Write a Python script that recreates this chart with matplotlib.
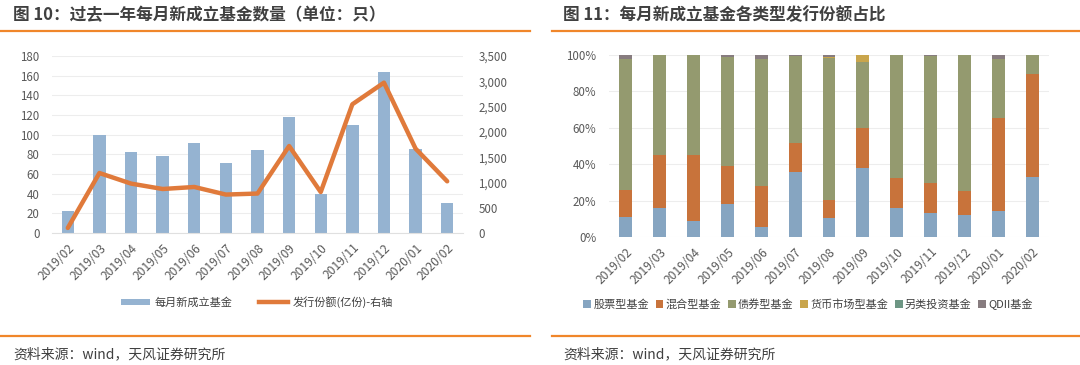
import matplotlib
matplotlib.use("Agg")
import matplotlib.pyplot as plt
from matplotlib.lines import Line2D
from matplotlib.patches import Patch
import numpy as np

plt.rcParams['font.family'] = ['Noto Sans CJK SC', 'DejaVu Sans']

months = ["2019/02", "2019/03", "2019/04", "2019/05", "2019/06", "2019/07", "2019/08",
          "2019/09", "2019/10", "2019/11", "2019/12", "2020/01", "2020/02"]
fund_count = [22, 100, 82, 78, 92, 71, 84, 118, 40, 110, 164, 85, 31]
issue_shares = [100, 1186, 977, 870, 910, 760, 780, 1720, 810, 2545, 2973, 1668, 1022]

type_names = ["股票型基金", "混合型基金", "债券型基金", "货币市场型基金", "另类投资基金", "QDII基金"]
stock_pct = [11.0, 15.7, 8.8, 18.1, 5.3, 35.8, 10.4, 38.0, 15.7, 13.3, 12.1, 14.3, 33.1]
mixed_pct = [14.8, 29.1, 36.0, 21.0, 22.9, 15.9, 10.1, 22.0, 16.8, 16.3, 12.9, 51.1, 56.5]
bond_pct = [71.8, 55.0, 55.2, 59.8, 69.4, 47.8, 77.5, 35.8, 67.5, 69.9, 75.0, 32.2, 10.4]
money_pct = [0.0, 0.0, 0.0, 0.0, 0.0, 0.0, 0.9, 4.2, 0.0, 0.0, 0.0, 0.0, 0.0]
alt_pct = [0.0, 0.0, 0.0, 0.0, 0.0, 0.0, 0.0, 0.0, 0.0, 0.0, 0.0, 0.0, 0.0]
qdii_pct = [2.4, 0.2, 0.0, 1.1, 2.4, 0.5, 1.1, 0.0, 0.0, 0.5, 0.0, 2.4, 0.0]

W, H = 1080, 365
fig = plt.figure(figsize=(W / 100, H / 100), dpi=100)
fig.patch.set_facecolor("white")

def fx(px):
    return px / W

def fy(py):
    return 1 - py / H

TXT = "#404040"
TICK = "#595959"
ORANGE_RULE = "#F0862A"
GRID = "#EDEDED"

# headers
fig.text(fx(13), fy(15), "图 10：过去一年每月新成立基金数量（单位：只）", fontsize=12,
         fontweight="bold", color=TXT, va="center", ha="left")
fig.text(fx(563), fy(15), "图 11：每月新成立基金各类型发行份额占比", fontsize=12,
         fontweight="bold", color=TXT, va="center", ha="left")
for x0, x1 in [(0, 530), (552, 1080)]:
    fig.add_artist(Line2D([fx(x0), fx(x1)], [fy(31), fy(31)], color=ORANGE_RULE, lw=1.6))
    fig.add_artist(Line2D([fx(x0), fx(x1)], [fy(336), fy(336)], color=ORANGE_RULE, lw=1.6))
fig.text(fx(13), fy(354), "资料来源：wind，天风证券研究所", fontsize=10, color=TXT, va="center")
fig.text(fx(563), fy(354), "资料来源：wind，天风证券研究所", fontsize=10, color=TXT, va="center")

# ---- left chart
axL = fig.add_axes([fx(52), fy(233), fx(463 - 52), (233 - 56) / H])
x = np.arange(len(months))
axL.bar(x, fund_count, width=0.39, color="#95B3D1", zorder=2)
axL.set_xlim(-0.5, len(months) - 0.5)
axL.set_ylim(0, 180)
axL.set_yticks(np.arange(0, 181, 20))
axL.grid(axis="y", color=GRID, lw=0.8, zorder=0)
for s in axL.spines.values():
    s.set_visible(False)
axL.spines["bottom"].set_visible(True)
axL.spines["bottom"].set_color("#E0E0E0")
axL.tick_params(axis="y", length=0, labelsize=8.3, colors=TICK, pad=9)
axL.set_xticks(x)
axL.set_xticklabels(months, rotation=45, ha="right", rotation_mode="anchor")
axL.tick_params(axis="x", length=0, labelsize=8.7, colors=TICK, pad=6)

axR = axL.twinx()
axR.plot(x, issue_shares, color="#E07A3B", lw=3.2, solid_capstyle="round",
         solid_joinstyle="round", zorder=3)
axR.set_ylim(0, 3500)
axR.set_yticks(np.arange(0, 3501, 500))
axR.set_yticklabels([f"{v:,}" for v in range(0, 3501, 500)])
for s in axR.spines.values():
    s.set_visible(False)
axR.tick_params(axis="y", length=0, labelsize=8.3, colors=TICK, pad=11)

leg_handles = [Patch(facecolor="#95B3D1", edgecolor="none"),
               Line2D([0], [0], color="#E07A3B", lw=3.2)]
fig.legend(leg_handles, ["每月新成立基金", "发行份额(亿份)-右轴"], loc="center",
           bbox_to_anchor=(fx(257), fy(302)), ncol=2, frameon=False, fontsize=8,
           handlelength=2.6, handleheight=0.5, columnspacing=2.4, handletextpad=0.4,
           labelcolor=TXT)

# ---- right chart
ax2 = fig.add_axes([fx(609), fy(237), fx(1049 - 609), (237 - 54.7) / H])
colors = ["#86A5C1", "#C8733B", "#949A6F", "#C9A54C", "#6D9684", "#877C7F"]
series = [stock_pct, mixed_pct, bond_pct, money_pct, alt_pct, qdii_pct]
bottom = np.zeros(len(months))
for name, vals, c in zip(type_names, series, colors):
    v = np.array(vals)
    ax2.bar(x, v, width=0.38, bottom=bottom, color=c, label=name, zorder=2)
    bottom += v
ax2.set_xlim(-0.5, len(months) - 0.5)
ax2.set_ylim(0, 100)
ax2.set_yticks(np.arange(0, 101, 20))
ax2.set_yticklabels([f"{v}%" for v in range(0, 101, 20)])
ax2.grid(axis="y", color=GRID, lw=0.8, zorder=0)
for s in ax2.spines.values():
    s.set_visible(False)
ax2.tick_params(axis="y", length=0, labelsize=8.3, colors=TICK, pad=9)
ax2.set_xticks(x)
ax2.set_xticklabels(months, rotation=45, ha="right", rotation_mode="anchor")
ax2.tick_params(axis="x", length=0, labelsize=8.7, colors=TICK, pad=6)

h2 = [Patch(facecolor=c, edgecolor="none") for c in colors]
fig.legend(h2, type_names, loc="center", bbox_to_anchor=(fx(808), fy(304)), ncol=6,
           frameon=False, fontsize=8, handlelength=0.7, handleheight=0.7,
           columnspacing=0.6, handletextpad=0.2, labelcolor=TXT)

fig.savefig("out.png", dpi=100, facecolor="white")
